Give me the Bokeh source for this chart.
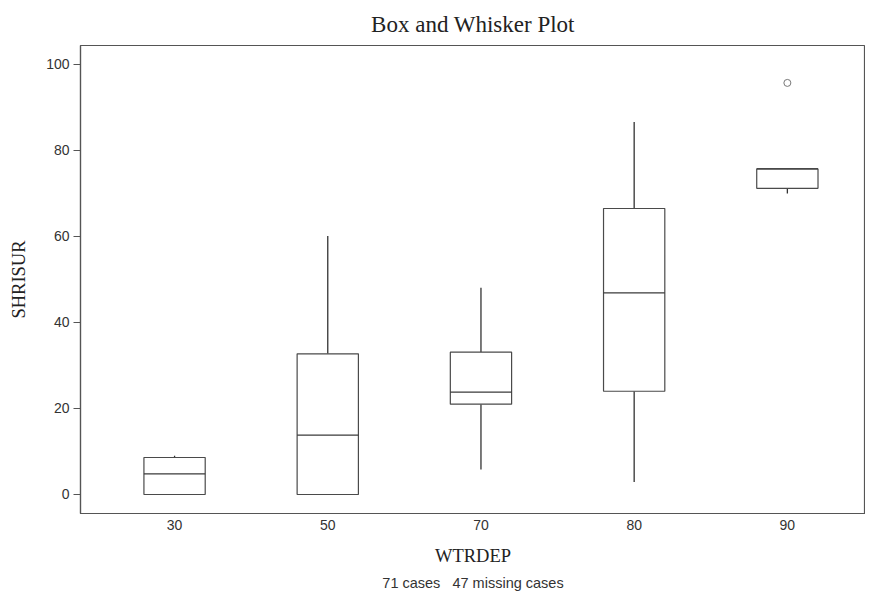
from bokeh.plotting import figure
from bokeh.models import ColumnDataSource, FixedTicker, Range1d, Title
from bokeh.embed import file_html
from bokeh.resources import INLINE

# ---- data ----
categories = ["30", "50", "70", "80", "90"]
lower_whisker = [0.0, 0.0, 5.8, 2.9, 70.0]
q1 = [0.0, 0.0, 21.0, 24.0, 71.2]
median = [4.8, 13.8, 23.8, 46.9, 75.7]
q3 = [8.6, 32.7, 33.1, 66.5, 75.7]
upper_whisker = [9.0, 60.1, 48.1, 86.6, 75.7]
outlier_category = ["90"]
outlier_value = [95.7]
y_ticks = [0, 20, 40, 60, 80, 100]
footnote = "71 cases\u00a0\u00a0\u00a047 missing cases"

pos = list(range(len(categories)))
half = 0.2
src = ColumnDataSource(dict(
    x=pos,
    left=[p_ - half for p_ in pos],
    right=[p_ + half for p_ in pos],
    lw=lower_whisker, q1=q1, med=median, q3=q3, uw=upper_whisker,
))
out_src = ColumnDataSource(dict(
    x=[categories.index(c) for c in outlier_category], y=outlier_value))

p = figure(width=865, height=595, output_backend="svg", toolbar_location=None,
           x_range=Range1d(-0.614, 4.51), y_range=Range1d(-4.42, 104.4),
           min_border_left=80, min_border_right=0, min_border_top=10,
           min_border_bottom=0)

p.title.text = "Box and Whisker Plot"
p.title.align = "center"
p.title.text_font = "Liberation Serif"
p.title.text_font_size = "23px"
p.title.text_font_style = "normal"
p.title.text_color = "#222222"
p.title.standoff = 18

line_col = "#4a4a4a"
# whiskers
p.segment(x0="x", y0="q3", x1="x", y1="uw", source=src, line_color="#333333", line_width=1.3)
p.segment(x0="x", y0="lw", x1="x", y1="q1", source=src, line_color="#333333", line_width=1.3)
# boxes
p.quad(left="left", right="right", bottom="q1", top="q3", source=src,
       fill_color="white", line_color=line_col, line_width=1.2)
# medians
p.segment(x0="left", y0="med", x1="right", y1="med", source=src,
          line_color="#3a3a3a", line_width=1.2)
# outlier
p.scatter(x="x", y="y", source=out_src, size=7, fill_color=None,
          line_color="#777777", line_width=1)

p.xgrid.visible = False
p.ygrid.visible = False
p.outline_line_color = "#555555"
p.outline_line_width = 1.2
p.background_fill_color = "white"
p.border_fill_color = "white"

# x axis
p.xaxis.ticker = FixedTicker(ticks=pos)
p.xaxis.major_label_overrides = {i: c for i, c in enumerate(categories)}
p.xaxis.major_tick_out = 0
p.xaxis.major_tick_in = 0
p.xaxis.minor_tick_line_color = None
p.xaxis.major_label_standoff = 6
p.xaxis.axis_label = "WTRDEP"
p.xaxis.axis_label_standoff = 13
# y axis
p.yaxis.ticker = FixedTicker(ticks=y_ticks)
p.yaxis.major_tick_out = 7
p.yaxis.major_tick_in = 0
p.yaxis.minor_tick_line_color = None
p.yaxis.major_label_standoff = 4
p.yaxis.axis_label = "SHRISUR"
p.yaxis.axis_label_standoff = 14

for ax in (p.xaxis, p.yaxis):
    ax.axis_line_color = "#555555"
    ax.axis_line_width = 1.2
    ax.major_tick_line_color = "#555555"
    ax.major_label_text_font = "Liberation Sans"
    ax.major_label_text_font_size = "14px"
    ax.major_label_text_color = "#333333"
    ax.axis_label_text_font = "Liberation Serif"
    ax.axis_label_text_font_size = "18.5px"
    ax.axis_label_text_font_style = "normal"
    ax.axis_label_text_color = "#222222"

foot = Title(text=footnote, align="center",
             text_font="Liberation Sans", text_font_size="14.5px",
             text_font_style="normal", text_color="#333333", standoff=9)
p.add_layout(foot, "below")

open("out.html", "w").write(file_html(p, INLINE))
